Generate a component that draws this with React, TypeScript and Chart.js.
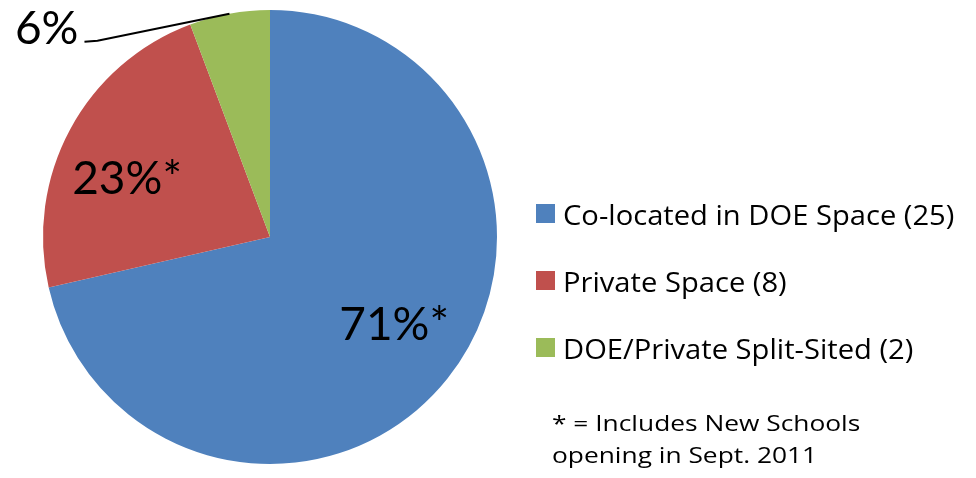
import React, { useEffect, useRef } from "react";
import { Chart, registerables } from "chart.js";

Chart.register(...registerables);

const categories = [
  "Co-located in DOE Space (25)",
  "Private Space (8)",
  "DOE/Private Split-Sited (2)",
];
const schoolCounts = [25, 8, 2];
const percentLabels = ["71%*", "23%*", "6%"];
const sliceColors = ["#4F81BD", "#C0504D", "#9BBB59"];
const footnoteLines = ["* = Includes New Schools", "opening in Sept. 2011"];

const FONT = "Lato, 'Open Sans', sans-serif";
const FONT2 = "'Open Sans', Lato, sans-serif";

function capCenterY(ctx: CanvasRenderingContext2D, cy: number) {
  const m = ctx.measureText("0");
  return cy + m.actualBoundingBoxAscent / 2;
}

function stretchedText(ctx: CanvasRenderingContext2D, text: string, x: number, cy: number, sx: number) {
  const y = capCenterY(ctx, cy);
  ctx.save();
  ctx.translate(x, y);
  ctx.scale(sx, 1);
  ctx.fillText(text, 0, 0);
  ctx.restore();
}

const overlayPlugin = {
  id: "overlay",
  afterDraw(chart: any) {
    const ctx: CanvasRenderingContext2D = chart.ctx;
    const meta = chart.getDatasetMeta(0);
    ctx.save();
    ctx.fillStyle = "#000";
    const inside = [
      { f: 0.66, dx: 7, dy: -7 },
      { f: 0.68, dx: -7, dy: 14 },
    ];
    meta.data.forEach((arc: any, i: number) => {
      const p = arc.getProps(["x", "y", "startAngle", "endAngle", "outerRadius"], true);
      const mid = (p.startAngle + p.endAngle) / 2;
      ctx.font = `46px ${FONT}`;
      if (i < 2) {
        const c = inside[i];
        const lx = p.x + Math.cos(mid) * p.outerRadius * c.f + c.dx;
        const ly = p.y + Math.sin(mid) * p.outerRadius * c.f + c.dy;
        ctx.textAlign = "center";
        ctx.textBaseline = "alphabetic";
        ctx.fillText(percentLabels[i], lx, capCenterY(ctx, ly));
      } else {
        const ex = p.x + Math.cos(mid) * p.outerRadius;
        const ey = p.y + Math.sin(mid) * p.outerRadius;
        const elbowX = ex - 132;
        const elbowY = ey + 27;
        const endX = elbowX - 13;
        ctx.strokeStyle = "#000";
        ctx.lineWidth = 2;
        ctx.beginPath();
        ctx.moveTo(ex, ey);
        ctx.lineTo(elbowX, elbowY);
        ctx.lineTo(endX, elbowY + 1);
        ctx.stroke();
        ctx.textAlign = "right";
        ctx.textBaseline = "alphabetic";
        ctx.fillText(percentLabels[i], endX - 6, capCenterY(ctx, elbowY - 13));
      }
    });
    ctx.font = `26.5px ${FONT2}`;
    ctx.textAlign = "left";
    categories.forEach((label, i) => {
      const cy = 213.5 + i * 67;
      ctx.fillStyle = sliceColors[i];
      ctx.fillRect(536, cy - 9.5, 19, 19);
      ctx.fillStyle = "#000";
      stretchedText(ctx, label, 563, cy + 1, 1.1);
    });
    ctx.font = `22.5px ${FONT2}`;
    footnoteLines.forEach((line, i) => {
      stretchedText(ctx, line, 552, 423 + i * 32, 1.17);
    });
    ctx.restore();
  },
};

export default function App() {
  const ref = useRef<HTMLCanvasElement>(null);
  useEffect(() => {
    const chart = new Chart(ref.current!, {
      type: "pie",
      data: {
        labels: categories,
        datasets: [
          {
            data: schoolCounts,
            backgroundColor: sliceColors,
            borderWidth: 0,
          },
        ],
      },
      options: {
        responsive: false,
        animation: false,
        layout: { padding: { top: 10, bottom: 14, left: 43, right: 479 } },
        plugins: {
          legend: { display: false },
          tooltip: { enabled: false },
        },
      },
      plugins: [overlayPlugin],
    });
    return () => chart.destroy();
  }, []);
  return (
    <div style={{ position: "fixed", left: 0, top: 0, width: 976, height: 478, background: "#fff" }}>
      <canvas ref={ref} width={976} height={478} />
    </div>
  );
}
